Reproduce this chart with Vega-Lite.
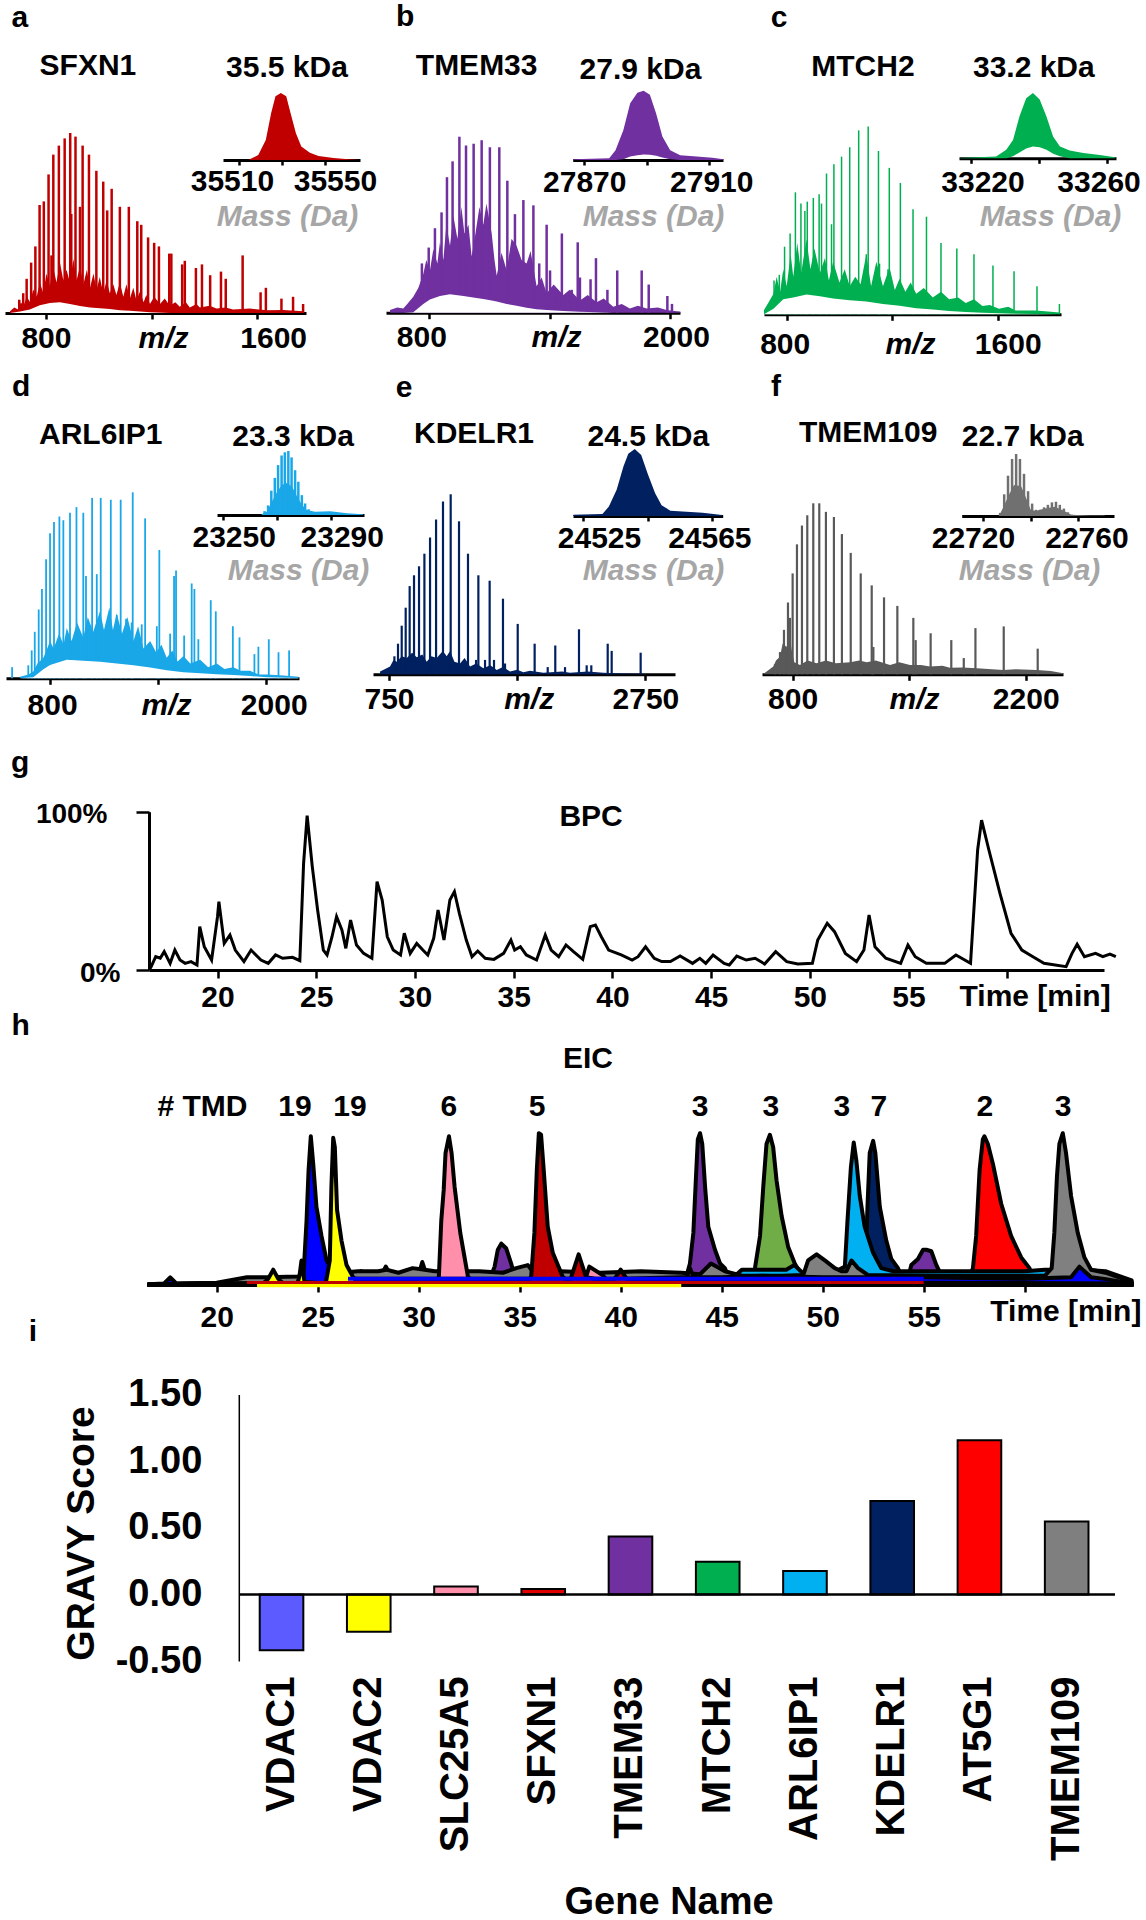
{"$schema":"https://vega.github.io/schema/vega-lite/v6.json","width":1146,"height":1920,"padding":0,"autosize":{"type":"none"},"background":"white",
"config":{"view":{"stroke":null},"axis":{"grid":false,"labelFont":"Liberation Sans","labelFontWeight":"bold","labelFontSize":30,"labelLimit":600,"labelColor":"black","titleFont":"Liberation Sans","titleFontWeight":"bold","titleFontSize":30,"titleColor":"black","tickColor":"black","domainColor":"black","domainWidth":3,"tickWidth":2.5,"labelOverlap":false,"labelBound":false,"labelFlush":false,"titleBaseline":"middle","titleAlign":"center","zindex":1}},
"resolve":{"scale":{"x":"independent","y":"independent","fill":"independent"},"axis":{"x":"independent","y":"independent"}},
"datasets":{
"aE":[{"x":664,"y":1},{"x":680,"y":3},{"x":695,"y":2},{"x":705,"y":6},{"x":715,"y":4},{"x":728,"y":9},{"x":740,"y":6},{"x":752,"y":13},{"x":765,"y":9},{"x":777,"y":17},{"x":790,"y":11},{"x":802,"y":22},{"x":815,"y":15},{"x":827,"y":26},{"x":840,"y":17},{"x":853,"y":28},{"x":866,"y":18},{"x":878,"y":24},{"x":891,"y":17},{"x":904,"y":30},{"x":916,"y":18},{"x":929,"y":26},{"x":942,"y":16},{"x":955,"y":24},{"x":967,"y":14},{"x":980,"y":22},{"x":992,"y":13},{"x":1004,"y":20},{"x":1017,"y":11},{"x":1030,"y":18},{"x":1042,"y":11},{"x":1055,"y":16},{"x":1067,"y":10},{"x":1080,"y":17},{"x":1093,"y":9},{"x":1105,"y":16},{"x":1118,"y":8},{"x":1131,"y":14},{"x":1143,"y":7},{"x":1156,"y":12},{"x":1170,"y":6},{"x":1180,"y":10},{"x":1194,"y":5},{"x":1210,"y":9},{"x":1232,"y":5},{"x":1250,"y":8},{"x":1269,"y":4},{"x":1290,"y":6},{"x":1307,"y":3.5},{"x":1330,"y":6},{"x":1345,"y":3},{"x":1370,"y":5},{"x":1383,"y":3},{"x":1420,"y":4},{"x":1446,"y":2.5},{"x":1480,"y":3},{"x":1509,"y":2},{"x":1572,"y":2.5},{"x":1635,"y":1.5},{"x":1699,"y":1.6},{"x":1774,"y":1}],
"aL":[{"x":664,"y":0},{"x":702,"y":0.8},{"x":739,"y":2},{"x":777,"y":4.3},{"x":815,"y":5.5},{"x":853,"y":6},{"x":891,"y":5},{"x":929,"y":3.9},{"x":967,"y":3},{"x":1004,"y":2.6},{"x":1042,"y":2.2},{"x":1080,"y":1.5},{"x":1118,"y":1.2},{"x":1156,"y":0.8},{"x":1194,"y":0.4},{"x":1269,"y":0}],
"aP":[{"x":699,"y":7.4},{"x":714,"y":11},{"x":727,"y":19},{"x":744,"y":28},{"x":760,"y":37},{"x":776,"y":60},{"x":792,"y":62},{"x":810,"y":77},{"x":821,"y":32},{"x":828,"y":88},{"x":849,"y":93},{"x":871,"y":97},{"x":892,"y":100},{"x":896,"y":55},{"x":912,"y":98},{"x":929,"y":59},{"x":939,"y":93},{"x":963,"y":88},{"x":991,"y":79},{"x":1017,"y":73},{"x":1032,"y":57},{"x":1049,"y":69},{"x":1080,"y":59},{"x":1114,"y":59},{"x":1146,"y":51},{"x":1161,"y":49},{"x":1187,"y":42},{"x":1210,"y":39},{"x":1228,"y":37},{"x":1267,"y":33},{"x":1275,"y":33},{"x":1316,"y":27},{"x":1326,"y":29},{"x":1368,"y":25},{"x":1391,"y":27},{"x":1422,"y":21},{"x":1463,"y":23},{"x":1481,"y":19},{"x":1545,"y":32},{"x":1613,"y":11.5},{"x":1633,"y":14},{"x":1692,"y":8},{"x":1736,"y":9},{"x":1774,"y":5}],
"aT":[{"x":701,"y":164,"t":"a"},{"x":959,"y":137,"t":"SFXN1"},{"x":1713,"y":136,"t":"35.5 kDa"}],
"aI":[{"x":35515,"y":1,"lo":0},{"x":35519,"y":7.5,"lo":0},{"x":35522.5,"y":30,"lo":0},{"x":35525,"y":70,"lo":0},{"x":35527,"y":95,"lo":0},{"x":35529.5,"y":100,"lo":0},{"x":35532,"y":95,"lo":0},{"x":35534,"y":70,"lo":0},{"x":35536.5,"y":40,"lo":0},{"x":35539,"y":20,"lo":0},{"x":35543,"y":11,"lo":0},{"x":35547,"y":6,"lo":0},{"x":35554,"y":3,"lo":0},{"x":35561,"y":1,"lo":0},{"x":35565,"y":0.5,"lo":0}],
"bE":[{"x":604,"y":1.5},{"x":640,"y":3},{"x":670,"y":2.4},{"x":690,"y":5},{"x":720,"y":9},{"x":745,"y":14},{"x":770,"y":22},{"x":785,"y":30},{"x":803,"y":24},{"x":820,"y":36},{"x":840,"y":28},{"x":853,"y":40},{"x":870,"y":30},{"x":885,"y":50},{"x":903,"y":38},{"x":920,"y":55},{"x":940,"y":42},{"x":960,"y":60},{"x":975,"y":45},{"x":995,"y":50},{"x":1011,"y":32},{"x":1030,"y":45},{"x":1050,"y":60},{"x":1069,"y":50},{"x":1085,"y":62},{"x":1111,"y":45},{"x":1125,"y":30},{"x":1136,"y":21},{"x":1160,"y":34},{"x":1186,"y":24},{"x":1210,"y":42},{"x":1235,"y":38},{"x":1260,"y":30},{"x":1285,"y":28},{"x":1305,"y":35},{"x":1335,"y":15},{"x":1360,"y":20},{"x":1385,"y":11},{"x":1420,"y":16},{"x":1468,"y":10},{"x":1500,"y":13},{"x":1551,"y":7},{"x":1590,"y":10},{"x":1634,"y":6},{"x":1670,"y":8},{"x":1717,"y":3.4},{"x":1760,"y":5},{"x":1800,"y":2.4},{"x":1840,"y":4},{"x":1884,"y":2.4},{"x":1940,"y":3},{"x":1983,"y":1.5},{"x":2050,"y":0.5}],
"bL":[{"x":670,"y":0},{"x":720,"y":0.3},{"x":770,"y":5},{"x":803,"y":7.5},{"x":853,"y":9.5},{"x":903,"y":10.5},{"x":970,"y":9.5},{"x":1011,"y":8.8},{"x":1069,"y":7.8},{"x":1111,"y":7},{"x":1136,"y":6.3},{"x":1186,"y":5},{"x":1235,"y":4},{"x":1285,"y":2.8},{"x":1335,"y":2},{"x":1385,"y":1.5},{"x":1468,"y":1},{"x":1551,"y":0.6},{"x":1634,"y":0.3},{"x":1717,"y":0}],
"bP":[{"x":763,"y":28},{"x":797,"y":37},{"x":828,"y":48},{"x":861,"y":57},{"x":888,"y":77},{"x":916,"y":86},{"x":950,"y":100},{"x":983,"y":95},{"x":1021,"y":96},{"x":1061,"y":98},{"x":1102,"y":94},{"x":1149,"y":94},{"x":1189,"y":75},{"x":1227,"y":56},{"x":1269,"y":64},{"x":1319,"y":61},{"x":1348,"y":28},{"x":1385,"y":50},{"x":1402,"y":24},{"x":1435,"y":13},{"x":1461,"y":45},{"x":1510,"y":13},{"x":1540,"y":40},{"x":1551,"y":20},{"x":1604,"y":19},{"x":1631,"y":31},{"x":1688,"y":13},{"x":1737,"y":24},{"x":1859,"y":24},{"x":1894,"y":16},{"x":1987,"y":9.5},{"x":2010,"y":5}],
"bT":[{"x":679,"y":168,"t":"b"},{"x":1036,"y":140,"t":"TMEM33"},{"x":1853,"y":138,"t":"27.9 kDa"}],
"bI":[{"x":27866.5,"y":1,"lo":0},{"x":27878,"y":2.4,"lo":0},{"x":27880,"y":14,"lo":0},{"x":27882.5,"y":43,"lo":1},{"x":27884.7,"y":82,"lo":5},{"x":27887,"y":97,"lo":7},{"x":27889,"y":100,"lo":8},{"x":27891,"y":94,"lo":7.5},{"x":27893,"y":67,"lo":6},{"x":27895,"y":34,"lo":3.5},{"x":27897.5,"y":14,"lo":1},{"x":27900.7,"y":7,"lo":0},{"x":27906,"y":5,"lo":0},{"x":27911,"y":3.4,"lo":0},{"x":27914.5,"y":1,"lo":0}],
"cE":[{"x":714,"y":2.3},{"x":730,"y":6},{"x":750,"y":11},{"x":762,"y":20},{"x":775,"y":12},{"x":787,"y":24},{"x":800,"y":15},{"x":815,"y":32},{"x":825,"y":20},{"x":840,"y":38},{"x":855,"y":22},{"x":875,"y":40},{"x":890,"y":24},{"x":905,"y":35},{"x":926,"y":22},{"x":945,"y":30},{"x":960,"y":18},{"x":976,"y":28},{"x":1000,"y":17},{"x":1020,"y":24},{"x":1039,"y":15},{"x":1060,"y":20},{"x":1080,"y":16},{"x":1102,"y":32},{"x":1120,"y":15},{"x":1140,"y":28},{"x":1165,"y":15},{"x":1190,"y":25},{"x":1210,"y":13},{"x":1228,"y":19},{"x":1250,"y":12},{"x":1270,"y":17},{"x":1291,"y":11},{"x":1320,"y":14},{"x":1354,"y":9},{"x":1385,"y":12},{"x":1416,"y":8},{"x":1450,"y":9},{"x":1479,"y":6},{"x":1510,"y":8},{"x":1542,"y":4.4},{"x":1570,"y":5},{"x":1605,"y":3},{"x":1640,"y":4},{"x":1668,"y":2},{"x":1744,"y":2},{"x":1790,"y":1.5},{"x":1834,"y":1}],
"cL":[{"x":714,"y":0},{"x":750,"y":3},{"x":787,"y":8},{"x":825,"y":9},{"x":875,"y":10.5},{"x":926,"y":9.6},{"x":976,"y":8.4},{"x":1039,"y":7.5},{"x":1102,"y":6.8},{"x":1165,"y":5.5},{"x":1228,"y":4.6},{"x":1291,"y":3.2},{"x":1354,"y":2.5},{"x":1416,"y":1.8},{"x":1479,"y":1.2},{"x":1542,"y":0.8},{"x":1605,"y":0.5},{"x":1668,"y":0.3},{"x":1744,"y":0.1},{"x":1834,"y":0}],
"cP":[{"x":752,"y":18},{"x":772,"y":21},{"x":792,"y":36},{"x":813,"y":43},{"x":833,"y":65},{"x":854,"y":59},{"x":869,"y":55},{"x":878,"y":60},{"x":901,"y":62},{"x":923,"y":64},{"x":932,"y":59},{"x":951,"y":75},{"x":970,"y":48},{"x":979,"y":80},{"x":1008,"y":84},{"x":1039,"y":89},{"x":1073,"y":98},{"x":1102,"y":32},{"x":1109,"y":100},{"x":1148,"y":87},{"x":1152,"y":27},{"x":1184,"y":24},{"x":1189,"y":78},{"x":1231,"y":70},{"x":1279,"y":56},{"x":1330,"y":52},{"x":1385,"y":38},{"x":1445,"y":35},{"x":1510,"y":32},{"x":1582,"y":26},{"x":1662,"y":23},{"x":1749,"y":15},{"x":1834,"y":5.5}],
"cT":[{"x":771,"y":158,"t":"c"},{"x":1089,"y":132,"t":"MTCH2"},{"x":1737,"y":131,"t":"33.2 kDa"}],
"cI":[{"x":33216.4,"y":0.5,"lo":0},{"x":33227.3,"y":2.6,"lo":0},{"x":33230.3,"y":13,"lo":0},{"x":33232.3,"y":28,"lo":3},{"x":33234.2,"y":64,"lo":9},{"x":33236.2,"y":92,"lo":15},{"x":33238.2,"y":100,"lo":18},{"x":33240.2,"y":90,"lo":17},{"x":33242.2,"y":64,"lo":13},{"x":33244.2,"y":33,"lo":7},{"x":33246.2,"y":18,"lo":3},{"x":33249.1,"y":12,"lo":0},{"x":33253.1,"y":8,"lo":0},{"x":33258,"y":5,"lo":0},{"x":33262.5,"y":1.5,"lo":0}],
"dE":[{"x":633,"y":0.9},{"x":680,"y":2},{"x":707,"y":3.6},{"x":730,"y":8},{"x":763,"y":11},{"x":780,"y":15},{"x":800,"y":20},{"x":820,"y":16},{"x":850,"y":24},{"x":875,"y":18},{"x":893,"y":27},{"x":920,"y":20},{"x":950,"y":30},{"x":985,"y":22},{"x":1010,"y":33},{"x":1040,"y":25},{"x":1078,"y":36},{"x":1100,"y":26},{"x":1130,"y":38},{"x":1150,"y":26},{"x":1171,"y":35},{"x":1200,"y":24},{"x":1230,"y":33},{"x":1264,"y":20},{"x":1290,"y":28},{"x":1320,"y":16},{"x":1357,"y":20},{"x":1390,"y":14},{"x":1420,"y":18},{"x":1449,"y":11},{"x":1480,"y":15},{"x":1510,"y":9},{"x":1542,"y":12},{"x":1580,"y":8},{"x":1635,"y":10},{"x":1680,"y":6},{"x":1728,"y":8},{"x":1770,"y":5},{"x":1820,"y":6},{"x":1860,"y":4},{"x":1913,"y":4},{"x":1960,"y":2},{"x":2006,"y":2},{"x":2100,"y":1.5},{"x":2182,"y":0.9}],
"dL":[{"x":633,"y":0},{"x":707,"y":0.5},{"x":763,"y":4.8},{"x":800,"y":7.2},{"x":893,"y":10},{"x":985,"y":9.5},{"x":1078,"y":8.9},{"x":1171,"y":8},{"x":1264,"y":7},{"x":1357,"y":5.8},{"x":1449,"y":4.3},{"x":1542,"y":3.2},{"x":1635,"y":2.7},{"x":1728,"y":2.2},{"x":1820,"y":1.8},{"x":1913,"y":1.3},{"x":2006,"y":0.5},{"x":2182,"y":0.2}],
"dP":[{"x":589,"y":6},{"x":679,"y":7},{"x":698,"y":15},{"x":715,"y":25},{"x":737,"y":37},{"x":755,"y":48},{"x":778,"y":64},{"x":800,"y":78},{"x":822,"y":84},{"x":852,"y":87},{"x":874,"y":85},{"x":911,"y":89},{"x":947,"y":92},{"x":985,"y":89},{"x":1000,"y":55},{"x":1034,"y":97},{"x":1060,"y":56},{"x":1082,"y":97},{"x":1138,"y":96},{"x":1171,"y":34},{"x":1193,"y":96},{"x":1223,"y":32},{"x":1254,"y":30},{"x":1260,"y":100},{"x":1310,"y":29},{"x":1329,"y":86},{"x":1394,"y":28},{"x":1408,"y":69},{"x":1468,"y":24},{"x":1490,"y":55},{"x":1501,"y":58},{"x":1546,"y":23},{"x":1588,"y":51},{"x":1603,"y":48},{"x":1625,"y":21},{"x":1694,"y":42},{"x":1722,"y":36},{"x":1817,"y":28},{"x":1854,"y":22},{"x":1937,"y":13},{"x":1959,"y":17},{"x":2017,"y":21},{"x":2071,"y":14},{"x":2130,"y":15}],
"dT":[{"x":639,"y":156.6,"t":"d"},{"x":1082,"y":131,"t":"ARL6IP1"},{"x":2152,"y":130,"t":"23.3 kDa"}],
"dI":[{"x":23264.4,"y":1,"lo":0},{"x":23266.3,"y":5,"lo":0},{"x":23268.1,"y":20,"lo":0},{"x":23270,"y":35,"lo":0},{"x":23271.9,"y":47,"lo":0},{"x":23273.5,"y":50,"lo":0},{"x":23275.6,"y":45,"lo":0},{"x":23277.4,"y":30,"lo":0},{"x":23279.3,"y":16,"lo":0},{"x":23281.1,"y":8,"lo":0},{"x":23284.2,"y":5,"lo":0},{"x":23289.8,"y":6,"lo":0},{"x":23296,"y":2.6,"lo":0},{"x":23302,"y":1,"lo":0}],
"dJ":[{"x":23265.5,"y":6},{"x":23266.8,"y":15},{"x":23268,"y":38},{"x":23269.3,"y":58},{"x":23270.5,"y":78},{"x":23271.8,"y":93},{"x":23273,"y":98},{"x":23274.3,"y":100},{"x":23275.5,"y":90},{"x":23276.8,"y":70},{"x":23278,"y":52},{"x":23279.3,"y":31},{"x":23280.5,"y":18},{"x":23281.8,"y":9}],
"eE":[{"x":680,"y":1.5},{"x":720,"y":3},{"x":758,"y":4.3},{"x":785,"y":8},{"x":810,"y":7},{"x":850,"y":10},{"x":888,"y":9},{"x":930,"y":12},{"x":966,"y":9.5},{"x":1010,"y":11},{"x":1044,"y":7},{"x":1080,"y":10},{"x":1122,"y":9},{"x":1170,"y":13},{"x":1200,"y":10},{"x":1226,"y":13},{"x":1260,"y":7},{"x":1304,"y":6},{"x":1340,"y":9},{"x":1382,"y":4.3},{"x":1430,"y":6},{"x":1486,"y":3.3},{"x":1540,"y":5},{"x":1590,"y":2.4},{"x":1640,"y":4},{"x":1694,"y":1.5},{"x":1750,"y":2.5},{"x":1798,"y":1.1},{"x":1850,"y":2},{"x":1954,"y":0.9},{"x":2100,"y":1.5},{"x":2162,"y":0.9},{"x":2300,"y":1.5},{"x":2422,"y":0.9},{"x":2578,"y":0.5},{"x":2760,"y":0.2}],
"eP":[{"x":792,"y":10},{"x":820,"y":17},{"x":849,"y":27},{"x":880,"y":37},{"x":911,"y":49},{"x":945,"y":55},{"x":984,"y":60},{"x":1026,"y":67},{"x":1070,"y":76},{"x":1117,"y":86},{"x":1171,"y":96},{"x":1231,"y":100},{"x":1296,"y":85},{"x":1366,"y":67},{"x":1429,"y":8},{"x":1447,"y":55},{"x":1499,"y":8},{"x":1535,"y":52},{"x":1569,"y":8},{"x":1639,"y":42},{"x":1655,"y":6},{"x":1754,"y":28},{"x":1886,"y":17},{"x":1988,"y":4},{"x":2047,"y":16},{"x":2123,"y":4},{"x":2232,"y":25},{"x":2292,"y":5},{"x":2328,"y":5},{"x":2456,"y":17},{"x":2487,"y":13},{"x":2713,"y":12}],
"eT":[{"x":867,"y":159,"t":"e"},{"x":1413,"y":133.5,"t":"KDELR1"},{"x":2773,"y":132,"t":"24.5 kDa"}],
"eI":[{"x":24522,"y":2,"lo":0},{"x":24531,"y":3,"lo":0},{"x":24533,"y":14,"lo":0},{"x":24535.4,"y":39,"lo":0},{"x":24537.5,"y":74,"lo":0},{"x":24539,"y":93,"lo":0},{"x":24541,"y":100,"lo":0},{"x":24543,"y":91,"lo":0},{"x":24545,"y":63,"lo":0},{"x":24547.3,"y":34,"lo":0},{"x":24549.3,"y":16,"lo":0},{"x":24552,"y":8,"lo":0},{"x":24557,"y":6.5,"lo":0},{"x":24562,"y":5,"lo":0},{"x":24568,"y":1.5,"lo":0}],
"fE":[{"x":624,"y":0.2},{"x":684,"y":4.5},{"x":700,"y":8},{"x":724,"y":10.3},{"x":740,"y":18},{"x":764,"y":16},{"x":780,"y":25},{"x":794,"y":14.2},{"x":810,"y":7},{"x":844,"y":5.5},{"x":890,"y":8},{"x":944,"y":6.5},{"x":1000,"y":8},{"x":1060,"y":6.5},{"x":1145,"y":7},{"x":1200,"y":8},{"x":1245,"y":7},{"x":1300,"y":8},{"x":1385,"y":5.5},{"x":1440,"y":7},{"x":1505,"y":5.5},{"x":1570,"y":5.5},{"x":1625,"y":4.5},{"x":1700,"y":5},{"x":1745,"y":3.9},{"x":1820,"y":4},{"x":1906,"y":3.5},{"x":2066,"y":2.5},{"x":2140,"y":3},{"x":2266,"y":2.5},{"x":2350,"y":2},{"x":2426,"y":0.6}],
"fP":[{"x":694,"y":6},{"x":724,"y":13},{"x":748,"y":26},{"x":772,"y":42},{"x":784,"y":33},{"x":800,"y":59},{"x":826,"y":76},{"x":856,"y":87},{"x":888,"y":93},{"x":924,"y":100},{"x":960,"y":100},{"x":1000,"y":95},{"x":1048,"y":92},{"x":1096,"y":82},{"x":1149,"y":71},{"x":1209,"y":59},{"x":1275,"y":52},{"x":1285,"y":16},{"x":1349,"y":45},{"x":1429,"y":40},{"x":1525,"y":33},{"x":1539,"y":20},{"x":1629,"y":24},{"x":1753,"y":20},{"x":1828,"y":9.5},{"x":1898,"y":27},{"x":2068,"y":28},{"x":2272,"y":15}],
"fT":[{"x":700,"y":168,"t":"f"},{"x":1254,"y":141,"t":"TMEM109"},{"x":2182,"y":139,"t":"22.7 kDa"}],
"fI":[{"x":22727,"y":2,"lo":0},{"x":22729,"y":18,"lo":0},{"x":22731,"y":35,"lo":0},{"x":22733,"y":50,"lo":0},{"x":22736,"y":48,"lo":0},{"x":22738,"y":30,"lo":0},{"x":22740,"y":10,"lo":0},{"x":22742,"y":8,"lo":0},{"x":22746,"y":12,"lo":0},{"x":22750,"y":15,"lo":0},{"x":22753,"y":10,"lo":0},{"x":22757,"y":2,"lo":0},{"x":22765,"y":1,"lo":0},{"x":22771,"y":1,"lo":0}],
"fJ":[{"x":22727.2,"y":5},{"x":22728.9,"y":35},{"x":22730.5,"y":65},{"x":22732.2,"y":92},{"x":22733.9,"y":100},{"x":22735.5,"y":92},{"x":22737.2,"y":68},{"x":22738.9,"y":40},{"x":22740.6,"y":20},{"x":22742.2,"y":10},{"x":22743.9,"y":10},{"x":22745.6,"y":14},{"x":22747.2,"y":18},{"x":22748.9,"y":22},{"x":22750.6,"y":23},{"x":22752.2,"y":18},{"x":22753.9,"y":12},{"x":22755.6,"y":6},{"x":22757.2,"y":2}],
"bpc":[{"x":16.6,"y":1},{"x":16.87,"y":8.4},{"x":17.1,"y":7.4},{"x":17.3,"y":11.6},{"x":17.6,"y":4.2},{"x":17.84,"y":12.6},{"x":18.1,"y":6.3},{"x":18.36,"y":4.2},{"x":18.66,"y":5.3},{"x":18.96,"y":3.2},{"x":19.1,"y":27.4},{"x":19.33,"y":14.7},{"x":19.7,"y":6.3},{"x":20,"y":33.7},{"x":20.07,"y":43.2},{"x":20.34,"y":16.8},{"x":20.63,"y":22.1},{"x":20.9,"y":12.6},{"x":21.34,"y":5.3},{"x":21.7,"y":12.6},{"x":22.2,"y":6.3},{"x":22.57,"y":4.2},{"x":22.94,"y":9.5},{"x":23.3,"y":7.4},{"x":23.8,"y":8},{"x":24.17,"y":5.9},{"x":24.36,"y":67.4},{"x":24.54,"y":97.5},{"x":24.8,"y":65.3},{"x":25.07,"y":37.9},{"x":25.36,"y":12.6},{"x":25.55,"y":9.5},{"x":25.8,"y":21},{"x":26.03,"y":33.7},{"x":26.3,"y":25.3},{"x":26.5,"y":13.7},{"x":26.74,"y":31.6},{"x":27.04,"y":15.8},{"x":27.4,"y":10.5},{"x":27.82,"y":7.4},{"x":28.08,"y":55.8},{"x":28.34,"y":44.2},{"x":28.6,"y":21},{"x":28.9,"y":12.6},{"x":29.27,"y":9.5},{"x":29.46,"y":23.2},{"x":29.76,"y":10.5},{"x":30.09,"y":16.8},{"x":30.4,"y":12.6},{"x":30.65,"y":9.5},{"x":30.95,"y":20},{"x":31.17,"y":37.9},{"x":31.47,"y":18.9},{"x":31.77,"y":44.2},{"x":32,"y":49.5},{"x":32.25,"y":35.8},{"x":32.6,"y":18.9},{"x":32.89,"y":8.4},{"x":33.18,"y":12},{"x":33.56,"y":7.4},{"x":34,"y":6.7},{"x":34.49,"y":10.5},{"x":34.86,"y":18.9},{"x":35.05,"y":12.6},{"x":35.34,"y":14.7},{"x":35.64,"y":9.5},{"x":36.16,"y":6.3},{"x":36.6,"y":22.1},{"x":36.9,"y":12.6},{"x":37.28,"y":8.4},{"x":37.65,"y":15.8},{"x":38.03,"y":11.6},{"x":38.5,"y":6.7},{"x":38.88,"y":27.4},{"x":39.14,"y":28.4},{"x":39.44,"y":21},{"x":39.81,"y":12.6},{"x":40.45,"y":9.5},{"x":41,"y":6.3},{"x":41.3,"y":8.4},{"x":41.68,"y":14.7},{"x":42.12,"y":7.4},{"x":42.5,"y":5.3},{"x":42.94,"y":5.3},{"x":43.43,"y":8.8},{"x":44.06,"y":4.2},{"x":44.43,"y":7.4},{"x":44.73,"y":4.2},{"x":45.1,"y":9.5},{"x":45.66,"y":4.2},{"x":45.92,"y":3.2},{"x":46.3,"y":8.8},{"x":46.78,"y":6.3},{"x":47.23,"y":7.4},{"x":47.71,"y":3.8},{"x":48.27,"y":11.6},{"x":48.83,"y":5.3},{"x":49.39,"y":3.8},{"x":50.13,"y":4.2},{"x":50.4,"y":18.9},{"x":50.88,"y":29.5},{"x":51.25,"y":24.2},{"x":51.8,"y":10.5},{"x":52.37,"y":5.3},{"x":52.74,"y":12.6},{"x":53,"y":34.7},{"x":53.3,"y":14.7},{"x":53.85,"y":7.4},{"x":54.6,"y":4.2},{"x":54.97,"y":15.8},{"x":55.34,"y":8.4},{"x":55.9,"y":4.2},{"x":56.83,"y":4.2},{"x":57.4,"y":9.5},{"x":58.14,"y":4.2},{"x":58.5,"y":75.8},{"x":58.7,"y":94.7},{"x":59.07,"y":75.8},{"x":59.63,"y":48.4},{"x":60.19,"y":23.2},{"x":60.74,"y":12.6},{"x":61.3,"y":8.4},{"x":61.86,"y":4.2},{"x":62.98,"y":2.1},{"x":63.28,"y":10.5},{"x":63.54,"y":16.2},{"x":63.91,"y":8.4},{"x":64.47,"y":10.5},{"x":64.84,"y":8.4},{"x":65.2,"y":10.1},{"x":65.5,"y":8.4}],
"bpcT":[{"x":10,"y":130.8,"t":"g"},{"x":38.92,"y":96.7,"t":"BPC"},{"x":61.41,"y":-17,"t":"Time [min]"}],
"eic":[
{"s":"KDELR1","x":16.65,"y":0.5},{"s":"KDELR1","x":51.9,"y":1},{"s":"KDELR1","x":52.12,"y":12},{"s":"KDELR1","x":52.22,"y":51},{"s":"KDELR1","x":52.33,"y":86},{"s":"KDELR1","x":52.5,"y":94},{"s":"KDELR1","x":52.61,"y":86},{"s":"KDELR1","x":52.83,"y":51},{"s":"KDELR1","x":53.15,"y":29},{"s":"KDELR1","x":53.4,"y":17},{"s":"KDELR1","x":53.73,"y":11},{"s":"KDELR1","x":54,"y":2},{"s":"KDELR1","x":65.3,"y":1},
{"s":"TMEM33","x":16.65,"y":0.5},{"s":"TMEM33","x":29.9,"y":2},{"s":"TMEM33","x":30.18,"y":15},{"s":"TMEM33","x":30.5,"y":2},{"s":"TMEM33","x":33.5,"y":3},{"s":"TMEM33","x":33.76,"y":12},{"s":"TMEM33","x":33.92,"y":23},{"s":"TMEM33","x":34.09,"y":27},{"s":"TMEM33","x":34.33,"y":24},{"s":"TMEM33","x":34.58,"y":14},{"s":"TMEM33","x":34.8,"y":3},{"s":"TMEM33","x":43.2,"y":3},{"s":"TMEM33","x":43.43,"y":14},{"s":"TMEM33","x":43.6,"y":34},{"s":"TMEM33","x":43.72,"y":68},{"s":"TMEM33","x":43.82,"y":95},{"s":"TMEM33","x":43.93,"y":99},{"s":"TMEM33","x":44.04,"y":92},{"s":"TMEM33","x":44.18,"y":64},{"s":"TMEM33","x":44.34,"y":38},{"s":"TMEM33","x":44.67,"y":23},{"s":"TMEM33","x":44.92,"y":14},{"s":"TMEM33","x":45.16,"y":11},{"s":"TMEM33","x":45.4,"y":3},{"s":"TMEM33","x":54.2,"y":3},{"s":"TMEM33","x":54.39,"y":13},{"s":"TMEM33","x":54.72,"y":17},{"s":"TMEM33","x":54.97,"y":23},{"s":"TMEM33","x":55.13,"y":23},{"s":"TMEM33","x":55.38,"y":22},{"s":"TMEM33","x":55.63,"y":13},{"s":"TMEM33","x":56,"y":3},{"s":"TMEM33","x":65.3,"y":1},
{"s":"MTCH2","x":16.65,"y":0.5},{"s":"MTCH2","x":28,"y":2},{"s":"MTCH2","x":28.37,"y":12},{"s":"MTCH2","x":28.8,"y":2},{"s":"MTCH2","x":46.4,"y":3},{"s":"MTCH2","x":46.65,"y":11},{"s":"MTCH2","x":46.9,"y":32},{"s":"MTCH2","x":47.06,"y":64},{"s":"MTCH2","x":47.22,"y":92},{"s":"MTCH2","x":47.39,"y":98},{"s":"MTCH2","x":47.55,"y":90},{"s":"MTCH2","x":47.72,"y":68},{"s":"MTCH2","x":47.97,"y":45},{"s":"MTCH2","x":48.29,"y":25},{"s":"MTCH2","x":48.62,"y":14},{"s":"MTCH2","x":48.79,"y":10},{"s":"MTCH2","x":49,"y":3},{"s":"MTCH2","x":65.3,"y":1},
{"s":"AT5G1","x":16.65,"y":0.3},{"s":"AT5G1","x":57.2,"y":3},{"s":"AT5G1","x":57.44,"y":11},{"s":"AT5G1","x":57.6,"y":32},{"s":"AT5G1","x":57.77,"y":75},{"s":"AT5G1","x":57.93,"y":95},{"s":"AT5G1","x":58.01,"y":97},{"s":"AT5G1","x":58.18,"y":92},{"s":"AT5G1","x":58.43,"y":79},{"s":"AT5G1","x":58.84,"y":53},{"s":"AT5G1","x":59.33,"y":32},{"s":"AT5G1","x":59.83,"y":18},{"s":"AT5G1","x":60.24,"y":11},{"s":"AT5G1","x":60.5,"y":2},{"s":"AT5G1","x":65.3,"y":1},
{"s":"ARL6IP1","x":16.65,"y":0.3},{"s":"ARL6IP1","x":27,"y":3},{"s":"ARL6IP1","x":27.15,"y":9},{"s":"ARL6IP1","x":27.4,"y":3},{"s":"ARL6IP1","x":42,"y":4},{"s":"ARL6IP1","x":42.4,"y":8},{"s":"ARL6IP1","x":42.7,"y":4},{"s":"ARL6IP1","x":45.5,"y":4},{"s":"ARL6IP1","x":46,"y":10},{"s":"ARL6IP1","x":47.7,"y":10},{"s":"ARL6IP1","x":48.2,"y":10},{"s":"ARL6IP1","x":48.6,"y":13},{"s":"ARL6IP1","x":49,"y":8},{"s":"ARL6IP1","x":50.8,"y":10},{"s":"ARL6IP1","x":51.1,"y":12},{"s":"ARL6IP1","x":51.23,"y":42},{"s":"ARL6IP1","x":51.4,"y":77},{"s":"ARL6IP1","x":51.54,"y":93},{"s":"ARL6IP1","x":51.67,"y":81},{"s":"ARL6IP1","x":51.84,"y":58},{"s":"ARL6IP1","x":52.08,"y":38},{"s":"ARL6IP1","x":52.5,"y":21},{"s":"ARL6IP1","x":52.9,"y":11},{"s":"ARL6IP1","x":53.5,"y":9},{"s":"ARL6IP1","x":54,"y":9},{"s":"ARL6IP1","x":56,"y":9},{"s":"ARL6IP1","x":57.2,"y":9},{"s":"ARL6IP1","x":58,"y":9},{"s":"ARL6IP1","x":60,"y":9},{"s":"ARL6IP1","x":61,"y":10},{"s":"ARL6IP1","x":63,"y":10},{"s":"ARL6IP1","x":64,"y":9},{"s":"ARL6IP1","x":65.3,"y":3},
{"s":"TMEM109","x":16.65,"y":0.5},{"s":"TMEM109","x":20,"y":1.5},{"s":"TMEM109","x":21.5,"y":5},{"s":"TMEM109","x":22.5,"y":5},{"s":"TMEM109","x":24,"y":5.5},{"s":"TMEM109","x":27,"y":9},{"s":"TMEM109","x":28,"y":9},{"s":"TMEM109","x":28.4,"y":10},{"s":"TMEM109","x":29,"y":8},{"s":"TMEM109","x":29.7,"y":11},{"s":"TMEM109","x":30.3,"y":10},{"s":"TMEM109","x":30.8,"y":9},{"s":"TMEM109","x":33,"y":9},{"s":"TMEM109","x":34.17,"y":8},{"s":"TMEM109","x":34.83,"y":11},{"s":"TMEM109","x":35.4,"y":13},{"s":"TMEM109","x":35.7,"y":8},{"s":"TMEM109","x":37,"y":9},{"s":"TMEM109","x":39,"y":8},{"s":"TMEM109","x":41,"y":9},{"s":"TMEM109","x":43,"y":8},{"s":"TMEM109","x":43.93,"y":7},{"s":"TMEM109","x":44.47,"y":14},{"s":"TMEM109","x":45.16,"y":9},{"s":"TMEM109","x":46,"y":6},{"s":"TMEM109","x":48,"y":6},{"s":"TMEM109","x":49.04,"y":6.5},{"s":"TMEM109","x":49.28,"y":16},{"s":"TMEM109","x":49.7,"y":20},{"s":"TMEM109","x":50.11,"y":16},{"s":"TMEM109","x":50.6,"y":11},{"s":"TMEM109","x":50.93,"y":9},{"s":"TMEM109","x":51.18,"y":9},{"s":"TMEM109","x":51.43,"y":16},{"s":"TMEM109","x":51.75,"y":11},{"s":"TMEM109","x":52.25,"y":6.5},{"s":"TMEM109","x":56,"y":6},{"s":"TMEM109","x":61,"y":6},{"s":"TMEM109","x":61.34,"y":11},{"s":"TMEM109","x":61.47,"y":34},{"s":"TMEM109","x":61.6,"y":71},{"s":"TMEM109","x":61.72,"y":92},{"s":"TMEM109","x":61.89,"y":99},{"s":"TMEM109","x":62.05,"y":86},{"s":"TMEM109","x":62.3,"y":58},{"s":"TMEM109","x":62.63,"y":34},{"s":"TMEM109","x":62.96,"y":18},{"s":"TMEM109","x":63.29,"y":10},{"s":"TMEM109","x":64,"y":8},{"s":"TMEM109","x":65.3,"y":2},
{"s":"SLC25A5","x":16.65,"y":0.3},{"s":"SLC25A5","x":30.8,"y":2},{"s":"SLC25A5","x":31,"y":5.4},{"s":"SLC25A5","x":31.12,"y":42},{"s":"SLC25A5","x":31.24,"y":62},{"s":"SLC25A5","x":31.33,"y":86},{"s":"SLC25A5","x":31.5,"y":97},{"s":"SLC25A5","x":31.63,"y":86},{"s":"SLC25A5","x":31.78,"y":64},{"s":"SLC25A5","x":32.06,"y":34},{"s":"SLC25A5","x":32.44,"y":5.4},{"s":"SLC25A5","x":32.7,"y":2},{"s":"SLC25A5","x":38.2,"y":2},{"s":"SLC25A5","x":38.45,"y":12},{"s":"SLC25A5","x":39.1,"y":6.5},{"s":"SLC25A5","x":39.4,"y":2},{"s":"SLC25A5","x":43.2,"y":2},{"s":"SLC25A5","x":43.43,"y":11},{"s":"SLC25A5","x":43.7,"y":2},{"s":"SLC25A5","x":65.3,"y":0.5},
{"s":"VDAC1","x":16.65,"y":0.5},{"s":"VDAC1","x":17.4,"y":1},{"s":"VDAC1","x":17.7,"y":5},{"s":"VDAC1","x":18,"y":1},{"s":"VDAC1","x":24,"y":1},{"s":"VDAC1","x":24.28,"y":2},{"s":"VDAC1","x":24.45,"y":42},{"s":"VDAC1","x":24.55,"y":75},{"s":"VDAC1","x":24.66,"y":97},{"s":"VDAC1","x":24.78,"y":79},{"s":"VDAC1","x":24.94,"y":51},{"s":"VDAC1","x":25.19,"y":32},{"s":"VDAC1","x":25.44,"y":16},{"s":"VDAC1","x":25.93,"y":5},{"s":"VDAC1","x":27,"y":4},{"s":"VDAC1","x":33,"y":4},{"s":"VDAC1","x":36,"y":4},{"s":"VDAC1","x":40,"y":4},{"s":"VDAC1","x":43,"y":5},{"s":"VDAC1","x":45,"y":5},{"s":"VDAC1","x":47,"y":6},{"s":"VDAC1","x":50,"y":5},{"s":"VDAC1","x":55,"y":5},{"s":"VDAC1","x":60,"y":4},{"s":"VDAC1","x":62.3,"y":5},{"s":"VDAC1","x":62.71,"y":12},{"s":"VDAC1","x":63.29,"y":5},{"s":"VDAC1","x":63.95,"y":4},{"s":"VDAC1","x":65.3,"y":1},
{"s":"SFXN1","x":16.65,"y":0.5},{"s":"SFXN1","x":35.4,"y":2},{"s":"SFXN1","x":35.57,"y":5.4},{"s":"SFXN1","x":35.73,"y":34},{"s":"SFXN1","x":35.85,"y":75},{"s":"SFXN1","x":35.95,"y":99},{"s":"SFXN1","x":36.06,"y":98},{"s":"SFXN1","x":36.18,"y":77},{"s":"SFXN1","x":36.39,"y":38},{"s":"SFXN1","x":36.64,"y":21},{"s":"SFXN1","x":37.13,"y":5.4},{"s":"SFXN1","x":37.4,"y":2},{"s":"SFXN1","x":37.55,"y":5},{"s":"SFXN1","x":37.92,"y":20},{"s":"SFXN1","x":38.29,"y":5},{"s":"SFXN1","x":39.6,"y":2},{"s":"SFXN1","x":40,"y":10},{"s":"SFXN1","x":40.4,"y":2},{"s":"SFXN1","x":43,"y":2},{"s":"SFXN1","x":65.3,"y":1},
{"s":"VDAC2","x":16.65,"y":0.3},{"s":"VDAC2","x":22.3,"y":1},{"s":"VDAC2","x":22.55,"y":4},{"s":"VDAC2","x":22.8,"y":10},{"s":"VDAC2","x":23.05,"y":4},{"s":"VDAC2","x":23.3,"y":1},{"s":"VDAC2","x":24,"y":1},{"s":"VDAC2","x":24.1,"y":6},{"s":"VDAC2","x":24.2,"y":16},{"s":"VDAC2","x":24.35,"y":2},{"s":"VDAC2","x":25.4,"y":1},{"s":"VDAC2","x":25.6,"y":16},{"s":"VDAC2","x":25.68,"y":64},{"s":"VDAC2","x":25.77,"y":96},{"s":"VDAC2","x":25.85,"y":90},{"s":"VDAC2","x":25.96,"y":49},{"s":"VDAC2","x":26.18,"y":29},{"s":"VDAC2","x":26.43,"y":13},{"s":"VDAC2","x":26.76,"y":5},{"s":"VDAC2","x":27,"y":1},{"s":"VDAC2","x":40,"y":0.8},{"s":"VDAC2","x":65.3,"y":0.5}],
"eicB":[{"s":"VDAC1","x":26.5,"y":5.4,"lo":2.8},{"s":"VDAC1","x":55,"y":5.4,"lo":2.8},{"s":"SFXN1","x":21.5,"y":2.6,"lo":0.6},{"s":"SFXN1","x":55,"y":2.6,"lo":0.6},{"s":"VDAC2","x":22,"y":0.6,"lo":-1.5},{"s":"VDAC2","x":43,"y":0.6,"lo":-1.5}],
"eicT":[{"x":10.3,"y":169,"t":"h"},{"x":38.38,"y":147.4,"t":"EIC"},{"x":19.3,"y":116,"t":"# TMD"},{"x":23.88,"y":116,"t":"19"},{"x":26.6,"y":116,"t":"19"},{"x":31.5,"y":116,"t":"6"},{"x":35.86,"y":116,"t":"5"},{"x":43.93,"y":116,"t":"3"},{"x":47.44,"y":116,"t":"3"},{"x":50.95,"y":116,"t":"3"},{"x":52.78,"y":116,"t":"7"},{"x":58.03,"y":116,"t":"2"},{"x":61.9,"y":116,"t":"3"},{"x":62.04,"y":-17.4,"t":"Time [min]"},{"x":10.9,"y":-30.7,"t":"i"}],
"bars":[{"g":"VDAC1","v":-0.42},{"g":"VDAC2","v":-0.28},{"g":"SLC25A5","v":0.06},{"g":"SFXN1","v":0.04},{"g":"TMEM33","v":0.434},{"g":"MTCH2","v":0.244},{"g":"ARL6IP1","v":0.176},{"g":"KDELR1","v":0.7},{"g":"AT5G1","v":1.157},{"g":"TMEM109","v":0.546}],
"zero":[{"a":0,"b":1,"z":0}]
},
"layer":[
{"encoding":{"x":{"field":"x","type":"quantitative","scale":{"domain":[645,1785],"range":[5,306],"nice":false,"zero":false},"axis":{"orient":"bottom","offset":-1607,"values":[800,1200,1600],"labelExpr":"datum.value==1200?'':datum.value","labelOffset":{"condition":{"test":"datum.value==1600","value":16},"value":0},"tickSize":6,"labelPadding":4,"title":"m/z","titleFontStyle":"italic","titleX":163,"titleY":25}},"y":{"field":"y","type":"quantitative","scale":{"domain":[0,100],"range":[313,133],"nice":false,"zero":false},"axis":null}},
"layer":[{"data":{"name":"aE"},"mark":{"type":"area","color":"#C00000"},"encoding":{"y2":{"datum":0}}},{"data":{"name":"aP"},"mark":{"type":"rule","color":"#C00000","strokeWidth":2.5},"encoding":{"y2":{"datum":0}}},{"data":{"name":"aL"},"mark":{"type":"area","color":"white"},"encoding":{"y2":{"datum":0}}},{"data":{"name":"aT"},"mark":{"type":"text","font":"Liberation Sans","fontWeight":"bold","fontSize":30,"baseline":"middle","color":"black"},"encoding":{"text":{"field":"t"}}}]},
{"data":{"name":"aI"},"mark":{"type":"area","color":"#C00000"},"encoding":{"x":{"field":"x","type":"quantitative","scale":{"domain":[35502.6,35566.3],"range":[223,360],"nice":false,"zero":false},"axis":{"orient":"bottom","offset":-1760,"values":[35510,35530,35550],"labelExpr":"datum.value==35530?'':datum.value","labelOffset":{"condition":{"test":"datum.value==35510","value":-7},"value":10},"tickSize":5,"labelPadding":1,"title":"Mass (Da)","titleFontStyle":"italic","titleColor":"#A6A6A6","titleX":287,"titleY":56}},"y":{"field":"y","type":"quantitative","scale":{"domain":[0,100],"range":[160,93],"nice":false,"zero":false},"axis":null},"y2":{"field":"lo"}}},
{"encoding":{"x":{"field":"x","type":"quantitative","scale":{"domain":[584,2050],"range":[386,680],"nice":false,"zero":false},"axis":{"orient":"bottom","offset":-1607.3,"values":[800,1400,2000],"labelExpr":"datum.value==1400?'':datum.value","labelOffset":{"condition":{"test":"datum.value==800","value":-8},"value":6},"tickSize":6,"labelPadding":4,"title":"m/z","titleFontStyle":"italic","titleX":556,"titleY":25}},"y":{"field":"y","type":"quantitative","scale":{"domain":[0,100],"range":[312.7,136.7],"nice":false,"zero":false},"axis":null}},
"layer":[{"data":{"name":"bE"},"mark":{"type":"area","color":"#7030A0"},"encoding":{"y2":{"datum":0}}},{"data":{"name":"bP"},"mark":{"type":"rule","color":"#7030A0","strokeWidth":2.5},"encoding":{"y2":{"datum":0}}},{"data":{"name":"bL"},"mark":{"type":"area","color":"white"},"encoding":{"y2":{"datum":0}}},{"data":{"name":"bT"},"mark":{"type":"text","font":"Liberation Sans","fontWeight":"bold","fontSize":30,"baseline":"middle","color":"black"},"encoding":{"text":{"field":"t"}}}]},
{"data":{"name":"bI"},"mark":{"type":"area","color":"#7030A0"},"encoding":{"x":{"field":"x","type":"quantitative","scale":{"domain":[27866.3,27914.4],"range":[572.7,723],"nice":false,"zero":false},"axis":{"orient":"bottom","offset":-1760,"values":[27870,27890,27910],"labelExpr":"datum.value==27890?'':datum.value","labelOffset":{"condition":{"test":"datum.value==27870","value":0},"value":2},"tickSize":5,"labelPadding":2,"title":"Mass (Da)","titleFontStyle":"italic","titleColor":"#A6A6A6","titleX":653,"titleY":56.7}},"y":{"field":"y","type":"quantitative","scale":{"domain":[0,100],"range":[160,90.7],"nice":false,"zero":false},"axis":null},"y2":{"field":"lo"}}},
{"encoding":{"x":{"field":"x","type":"quantitative","scale":{"domain":[714,1840],"range":[764,1061],"nice":false,"zero":false},"axis":{"orient":"bottom","offset":-1605.7,"values":[800,1200,1600],"labelExpr":"datum.value==1200?'':datum.value","labelOffset":{"condition":{"test":"datum.value==800","value":-2},"value":10},"tickSize":6,"labelPadding":9,"title":"m/z","titleFontStyle":"italic","titleX":910,"titleY":30}},"y":{"field":"y","type":"quantitative","scale":{"domain":[0,100],"range":[314.3,126.6],"nice":false,"zero":false},"axis":null}},
"layer":[{"data":{"name":"cE"},"mark":{"type":"area","color":"#00B050"},"encoding":{"y2":{"datum":0}}},{"data":{"name":"cP"},"mark":{"type":"rule","color":"#00B050","strokeWidth":1.5},"encoding":{"y2":{"datum":0}}},{"data":{"name":"cL"},"mark":{"type":"area","color":"white"},"encoding":{"y2":{"datum":0}}},{"data":{"name":"cT"},"mark":{"type":"text","font":"Liberation Sans","fontWeight":"bold","fontSize":30,"baseline":"middle","color":"black"},"encoding":{"text":{"field":"t"}}}]},
{"data":{"name":"cI"},"mark":{"type":"area","color":"#00B050"},"encoding":{"x":{"field":"x","type":"quantitative","scale":{"domain":[33216.3,33262.8],"range":[959,1116],"nice":false,"zero":false},"axis":{"orient":"bottom","offset":-1761.7,"values":[33220,33240,33260],"labelExpr":"datum.value==33240?'':datum.value","labelOffset":{"condition":{"test":"datum.value==33220","value":11},"value":-8},"tickSize":5,"labelPadding":4,"title":"Mass (Da)","titleFontStyle":"italic","titleColor":"#A6A6A6","titleX":1050,"titleY":57.7}},"y":{"field":"y","type":"quantitative","scale":{"domain":[0,100],"range":[158.3,93],"nice":false,"zero":false},"axis":null},"y2":{"field":"lo"}}},
{"encoding":{"x":{"field":"x","type":"quantitative","scale":{"domain":[555,2185],"range":[6,299],"nice":false,"zero":false},"axis":{"orient":"bottom","offset":-1241.7,"values":[800,1400,2000],"labelExpr":"datum.value==1400?'':datum.value","labelOffset":{"condition":{"test":"datum.value==800","value":2},"value":8},"tickSize":6,"labelPadding":6,"title":"m/z","titleFontStyle":"italic","titleX":166,"titleY":26.7}},"y":{"field":"y","type":"quantitative","scale":{"domain":[0,100],"range":[678.3,492.3],"nice":false,"zero":false},"axis":null}},
"layer":[{"data":{"name":"dE"},"mark":{"type":"area","color":"#1AA7E8"},"encoding":{"y2":{"datum":0}}},{"data":{"name":"dP"},"mark":{"type":"rule","color":"#1AA7E8","strokeWidth":1.8},"encoding":{"y2":{"datum":0}}},{"data":{"name":"dL"},"mark":{"type":"area","color":"white"},"encoding":{"y2":{"datum":0}}},{"data":{"name":"dT"},"mark":{"type":"text","font":"Liberation Sans","fontWeight":"bold","fontSize":30,"baseline":"middle","color":"black"},"encoding":{"text":{"field":"t"}}}]},
{"encoding":{"x":{"field":"x","type":"quantitative","scale":{"domain":[23247.9,23302.3],"range":[217,364],"nice":false,"zero":false},"axis":{"orient":"bottom","offset":-1405,"values":[23250,23270,23290],"labelExpr":"datum.value==23270?'':datum.value","labelOffset":11,"tickSize":5,"labelPadding":2,"title":"Mass (Da)","titleFontStyle":"italic","titleColor":"#A6A6A6","titleX":298,"titleY":55}},"y":{"field":"y","type":"quantitative","scale":{"domain":[0,100],"range":[515,451],"nice":false,"zero":false},"axis":null}},
"layer":[{"data":{"name":"dI"},"mark":{"type":"area","color":"#1AA7E8"},"encoding":{"y2":{"field":"lo"}}},{"data":{"name":"dJ"},"mark":{"type":"rule","color":"#1AA7E8","strokeWidth":2.5},"encoding":{"y2":{"datum":0}}}]},
{"encoding":{"x":{"field":"x","type":"quantitative","scale":{"domain":[625,2981],"range":[373,675],"nice":false,"zero":false},"axis":{"orient":"bottom","offset":-1245.7,"values":[750,1750,2750],"labelExpr":"datum.value==1750?'':datum.value","tickSize":6,"labelPadding":4,"title":"m/z","titleFontStyle":"italic","titleX":528.7,"titleY":25}},"y":{"field":"y","type":"quantitative","scale":{"domain":[0,100],"range":[674.3,494.3],"nice":false,"zero":false},"axis":null}},
"layer":[{"data":{"name":"eE"},"mark":{"type":"area","color":"#002060"},"encoding":{"y2":{"datum":0}}},{"data":{"name":"eP"},"mark":{"type":"rule","color":"#002060","strokeWidth":2.2},"encoding":{"y2":{"datum":0}}},{"data":{"name":"eT"},"mark":{"type":"text","font":"Liberation Sans","fontWeight":"bold","fontSize":30,"baseline":"middle","color":"black"},"encoding":{"text":{"field":"t"}}}]},
{"data":{"name":"eI"},"mark":{"type":"area","color":"#002060"},"encoding":{"x":{"field":"x","type":"quantitative","scale":{"domain":[24521.9,24568.2],"range":[573,722.7],"nice":false,"zero":false},"axis":{"orient":"bottom","offset":-1404,"values":[24525,24545,24565],"labelExpr":"datum.value==24545?'':datum.value","labelOffset":{"condition":{"test":"datum.value==24525","value":16},"value":-3},"tickSize":5,"labelPadding":2,"title":"Mass (Da)","titleFontStyle":"italic","titleColor":"#A6A6A6","titleX":653,"titleY":54}},"y":{"field":"y","type":"quantitative","scale":{"domain":[0,100],"range":[516,449],"nice":false,"zero":false},"axis":null},"y2":{"field":"lo"}}},
{"encoding":{"x":{"field":"x","type":"quantitative","scale":{"domain":[616,2424],"range":[762,1063],"nice":false,"zero":false},"axis":{"orient":"bottom","offset":-1245.7,"values":[800,1500,2200],"labelExpr":"datum.value==1500?'':datum.value","tickSize":6,"labelPadding":4,"title":"m/z","titleFontStyle":"italic","titleX":914,"titleY":25}},"y":{"field":"y","type":"quantitative","scale":{"domain":[0,100],"range":[674.3,503.3],"nice":false,"zero":false},"axis":null}},
"layer":[{"data":{"name":"fE"},"mark":{"type":"area","color":"#595959"},"encoding":{"y2":{"datum":0}}},{"data":{"name":"fP"},"mark":{"type":"rule","color":"#595959","strokeWidth":2.2},"encoding":{"y2":{"datum":0}}},{"data":{"name":"fT"},"mark":{"type":"text","font":"Liberation Sans","fontWeight":"bold","fontSize":30,"baseline":"middle","color":"black"},"encoding":{"text":{"field":"t"}}}]},
{"encoding":{"x":{"field":"x","type":"quantitative","scale":{"domain":[22711.1,22774.9],"range":[961.7,1114],"nice":false,"zero":false},"axis":{"orient":"bottom","offset":-1404,"values":[22720,22740,22760],"labelExpr":"datum.value==22740?'':datum.value","labelOffset":{"condition":{"test":"datum.value==22720","value":-10},"value":8},"tickSize":5,"labelPadding":2,"title":"Mass (Da)","titleFontStyle":"italic","titleColor":"#A6A6A6","titleX":1029,"titleY":54}},"y":{"field":"y","type":"quantitative","scale":{"domain":[0,100],"range":[516,454],"nice":false,"zero":false},"axis":null}},
"layer":[{"data":{"name":"fI"},"mark":{"type":"area","color":"#707070"},"encoding":{"y2":{"field":"lo"}}},{"data":{"name":"fJ"},"mark":{"type":"rule","color":"#707070","strokeWidth":2.5},"encoding":{"y2":{"datum":0}}}]},
{"encoding":{"x":{"field":"x","type":"quantitative","scale":{"domain":[16.53,64.9],"range":[149,1104],"nice":false,"zero":false},"axis":{"orient":"bottom","offset":-950,"values":[20,25,30,35,40,45,50,55,60],"labelExpr":"datum.value==60?'':datum.value","tickSize":8,"labelPadding":4,"title":null}},"y":{"field":"y","type":"quantitative","scale":{"domain":[0,100],"range":[970,811.7],"nice":false,"zero":false},"axis":{"orient":"left","offset":-149,"values":[0,100],"labelExpr":"datum.value+'%'","labelFontSize":28,"labelOffset":3,"tickSize":13,"labelPadding":{"condition":{"test":"datum.value==100","value":29},"value":16},"title":null}}},
"layer":[{"data":{"name":"bpc"},"mark":{"type":"line","color":"black","strokeWidth":3}},{"data":{"name":"bpcT"},"mark":{"type":"text","font":"Liberation Sans","fontWeight":"bold","fontSize":30,"baseline":"middle","color":"black"},"encoding":{"text":{"field":"t"}}}]},
{"encoding":{"x":{"field":"x","type":"quantitative","scale":{"domain":[16.65,65.35],"range":[149,1132.7],"nice":false,"zero":false},"axis":{"orient":"bottom","offset":-635,"values":[20,25,30,35,40,45,50,55,60],"labelExpr":"datum.value==60?'':datum.value","tickSize":7,"labelPadding":10,"zindex":0,"title":null}},"y":{"field":"y","type":"quantitative","stack":null,"scale":{"domain":[0,100],"range":[1285,1131.7],"nice":false,"zero":false},"axis":null}},
"layer":[{"data":{"name":"eic"},"mark":{"type":"area","stroke":"black","strokeWidth":4,"strokeJoin":"round"},"encoding":{"fill":{"field":"s","type":"nominal","legend":null,"sort":null,"scale":{"domain":["KDELR1","TMEM33","MTCH2","AT5G1","ARL6IP1","TMEM109","SLC25A5","VDAC1","SFXN1","VDAC2"],"range":["#002060","#7030A0","#70AD47","#FF0000","#00B0F0","#808080","#FF8FAB","#0000FF","#C00000","#FFFF00"]}}}},{"data":{"name":"eicB"},"mark":{"type":"area"},"encoding":{"y2":{"field":"lo"},"fill":{"field":"s","type":"nominal","legend":null,"sort":null,"scale":{"domain":["KDELR1","TMEM33","MTCH2","AT5G1","ARL6IP1","TMEM109","SLC25A5","VDAC1","SFXN1","VDAC2"],"range":["#002060","#7030A0","#70AD47","#FF0000","#00B0F0","#808080","#FF8FAB","#0000FF","#C00000","#FFFF00"]}}}},{"data":{"name":"eicT"},"mark":{"type":"text","font":"Liberation Sans","fontWeight":"bold","fontSize":30,"baseline":"middle","color":"black"},"encoding":{"text":{"field":"t"}}}]},
{"data":{"name":"bars"},"mark":{"type":"bar","stroke":"black","strokeWidth":2},"encoding":{"x":{"field":"g","type":"nominal","sort":null,"scale":{"range":[237.9,1110.3],"paddingInner":0.5,"paddingOuter":0.25},"axis":{"orient":"bottom","offset":-248,"ticks":false,"domain":false,"labelAngle":-90,"labelAlign":"right","labelBaseline":"middle","labelFontSize":40,"labelPadding":4,"title":"Gene Name","titleFontSize":38,"titleX":668.6,"titleY":230}},"y":{"field":"v","type":"quantitative","scale":{"domain":[-0.5,1.5],"range":[1661,1394.5],"nice":false,"zero":false},"axis":{"orient":"left","offset":-238.8,"values":[-0.5,0,0.5,1,1.5],"format":".2f","labelExpr":"datum.value<0?'-0.50':datum.label","ticks":false,"domainWidth":1.5,"labelFontSize":38,"labelPadding":37,"title":"GRAVY Score","titleFontSize":39,"titleAngle":-90,"titleX":-157.8,"titleY":1533}},"y2":{"datum":0},"fill":{"field":"g","type":"nominal","legend":null,"sort":null,"scale":{"domain":["VDAC1","VDAC2","SLC25A5","SFXN1","TMEM33","MTCH2","ARL6IP1","KDELR1","AT5G1","TMEM109"],"range":["#5B5BFF","#FFFF00","#FF8FAB","#E00000","#7030A0","#00B050","#00B0F0","#002060","#FF0000","#7F7F7F"]}}}},
{"data":{"name":"zero"},"mark":{"type":"rule","color":"black","strokeWidth":2.5},"encoding":{"x":{"field":"a","type":"quantitative","scale":{"domain":[0,1],"range":[239,1115],"nice":false,"zero":false},"axis":null},"x2":{"field":"b"},"y":{"field":"z","type":"quantitative","scale":{"domain":[-0.5,1.5],"range":[1661,1394.5],"nice":false,"zero":false},"axis":null}}}
]}
